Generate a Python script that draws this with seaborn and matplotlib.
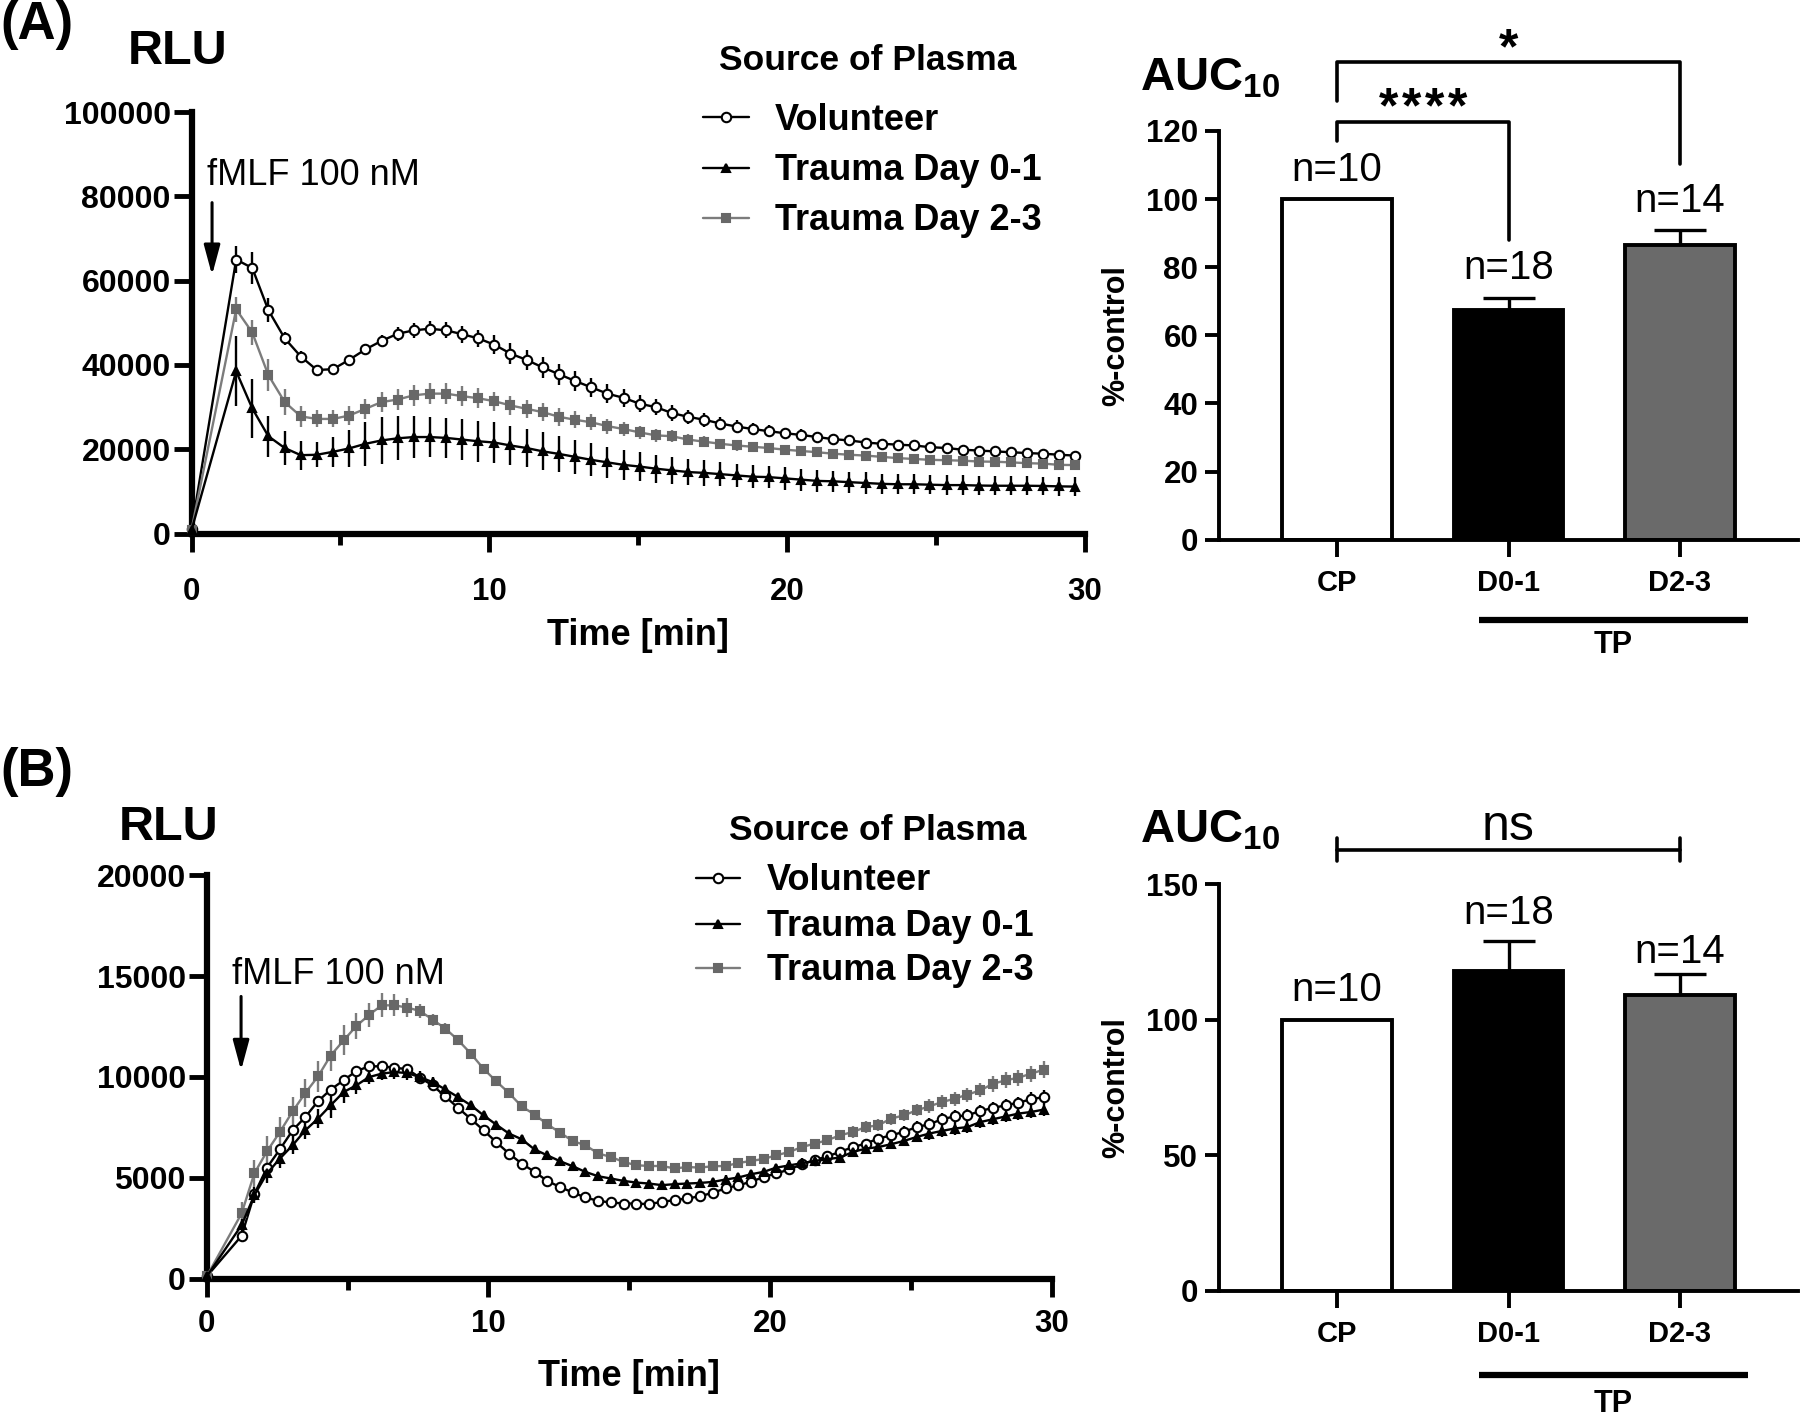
import numpy as np
import pandas as pd
import matplotlib
matplotlib.use("Agg")
import matplotlib.pyplot as plt
from matplotlib.lines import Line2D
import seaborn as sns

# -------------------------------------------------
# Kinetics data (RLU, mean and SEM), panel A
# -------------------------------------------------
time_a = [0, 1.5, 2.04, 2.58, 3.13, 3.67, 4.21, 4.75, 5.29, 5.84,
          6.38, 6.92, 7.46, 8.0, 8.55, 9.09, 9.63, 10.17, 10.71, 11.25,
          11.8, 12.34, 12.88, 13.42, 13.96, 14.51, 15.05, 15.59, 16.13, 16.67,
          17.22, 17.76, 18.3, 18.84, 19.38, 19.93, 20.47, 21.01, 21.55, 22.09,
          22.64, 23.18, 23.72, 24.26, 24.8, 25.35, 25.89, 26.43, 26.97, 27.51,
          28.06, 28.6, 29.14, 29.68]
vol_a = [1000, 65000, 63000, 53000, 46300, 42000, 38800, 39000, 41200, 43700,
         45700, 47400, 48200, 48600, 48200, 47300, 46300, 44800, 42700, 41200,
         39400, 37800, 36200, 34700, 33200, 32200, 30800, 30000, 28600, 27700,
         27000, 26100, 25400, 24800, 24300, 23800, 23400, 22900, 22400, 22100,
         21600, 21300, 21100, 20900, 20500, 20300, 19900, 19700, 19500, 19300,
         19100, 18950, 18700, 18500]
vol_a_err = [0, 3200, 3700, 2900, 1500, 1200, 1000, 1000, 1100, 1300,
             1500, 1700, 1800, 1800, 1900, 2000, 2000, 2300, 2400, 2400,
             2500, 2500, 2400, 2300, 2200, 2100, 2000, 1900, 1800, 1700,
             1600, 1500, 1500, 1400, 1400, 1300, 1300, 1200, 1200, 1100,
             1100, 1100, 1000, 1000, 1000, 1000, 900, 900, 900, 900,
             900, 900, 900, 900]
d01_a = [800, 38500, 29700, 23100, 20300, 18600, 18700, 19400, 20200, 21300,
         22100, 22600, 22900, 22900, 22700, 22300, 21900, 21600, 20900, 20300,
         19500, 18900, 18200, 17500, 16900, 16300, 15900, 15400, 15000, 14600,
         14400, 14100, 13800, 13500, 13400, 13100, 12800, 12500, 12400, 12200,
         12000, 11800, 11700, 11700, 11600, 11500, 11500, 11400, 11350, 11350,
         11350, 11300, 11200, 11150]
d01_a_err = [0, 8300, 7000, 4900, 4100, 3400, 3000, 3600, 4400, 5200,
             5600, 5200, 4900, 4800, 4800, 4800, 4800, 4800, 4700, 4600,
             4500, 4300, 4100, 3900, 3700, 3500, 3400, 3300, 3200, 3100,
             3000, 2900, 2800, 2800, 2700, 2700, 2600, 2600, 2500, 2500,
             2500, 2400, 2400, 2400, 2300, 2300, 2300, 2300, 2200, 2200,
             2200, 2200, 2200, 2200]
d23_a = [900, 53200, 47700, 37600, 31200, 27800, 27200, 27200, 28000, 29600,
         31200, 31800, 32800, 33200, 33200, 32600, 32100, 31400, 30400, 29600,
         28800, 27700, 27000, 26400, 25500, 24800, 24000, 23300, 23100, 22300,
         21800, 21300, 20900, 20600, 20300, 19900, 19600, 19300, 18950, 18700,
         18500, 18200, 17900, 17700, 17500, 17400, 17300, 17100, 17050, 16900,
         16700, 16600, 16300, 16250]
d23_a_err = [0, 3000, 3000, 3700, 3000, 2400, 2000, 2000, 2200, 2300,
             2400, 2500, 2500, 2500, 2500, 2400, 2400, 2300, 2300, 2200,
             2200, 2100, 2000, 1900, 1800, 1700, 1600, 1500, 1400, 1300,
             1300, 1200, 1200, 1100, 1100, 1000, 1000, 1000, 900, 900,
             900, 900, 800, 800, 800, 800, 800, 700, 700, 700,
             700, 700, 700, 700]

# -------------------------------------------------
# Kinetics data, panel B
# -------------------------------------------------
time_b = [0, 1.24, 1.69, 2.14, 2.6, 3.05, 3.5, 3.95, 4.4, 4.86,
          5.31, 5.76, 6.21, 6.66, 7.12, 7.57, 8.02, 8.47, 8.92, 9.38,
          9.83, 10.28, 10.73, 11.18, 11.64, 12.09, 12.54, 12.99, 13.44, 13.9,
          14.35, 14.8, 15.25, 15.7, 16.16, 16.61, 17.06, 17.51, 17.96, 18.42,
          18.87, 19.32, 19.77, 20.22, 20.68, 21.13, 21.58, 22.03, 22.48, 22.94,
          23.39, 23.84, 24.29, 24.74, 25.2, 25.65, 26.1, 26.55, 27.0, 27.46,
          27.91, 28.36, 28.81, 29.26, 29.72]
vol_b = [100, 2120, 4180, 5500, 6410, 7350, 8010, 8790, 9370, 9830,
         10290, 10520, 10530, 10450, 10390, 9960, 9580, 9030, 8470, 7910,
         7350, 6760, 6200, 5700, 5290, 4840, 4540, 4270, 4020, 3850,
         3770, 3720, 3720, 3690, 3800, 3890, 3970, 4080, 4250, 4470,
         4630, 4790, 5040, 5210, 5410, 5670, 5870, 6060, 6280, 6520,
         6690, 6940, 7100, 7270, 7510, 7650, 7900, 8040, 8090, 8310,
         8460, 8590, 8720, 8890, 9000]
vol_b_err = [0, 150, 200, 250, 250, 250, 250, 250, 250, 250,
             250, 250, 250, 250, 250, 250, 250, 250, 250, 200,
             200, 200, 200, 200, 200, 150, 150, 150, 150, 150,
             150, 150, 150, 150, 150, 150, 150, 150, 200, 200,
             200, 200, 200, 200, 200, 250, 250, 250, 250, 250,
             250, 250, 250, 300, 300, 300, 300, 300, 300, 300,
             300, 300, 300, 350, 350]
d01_b = [100, 2650, 4130, 5210, 5950, 6610, 7350, 7930, 8590, 9250,
         9580, 9990, 10160, 10240, 10190, 9990, 9740, 9380, 9000, 8590,
         8090, 7630, 7190, 6910, 6400, 6110, 5820, 5570, 5290, 5070,
         4960, 4840, 4760, 4710, 4630, 4680, 4710, 4740, 4790, 4910,
         5010, 5170, 5290, 5500, 5610, 5720, 5830, 5920, 6000, 6280,
         6440, 6520, 6660, 6820, 7020, 7190, 7320, 7440, 7510, 7760,
         7900, 8040, 8180, 8260, 8380]
d01_b_err = [0, 300, 400, 450, 450, 450, 450, 460, 610, 530,
             450, 350, 330, 330, 330, 300, 250, 200, 200, 200,
             200, 200, 200, 200, 200, 200, 200, 200, 200, 200,
             200, 200, 200, 200, 200, 200, 200, 200, 200, 200,
             200, 200, 200, 200, 250, 250, 250, 250, 250, 250,
             250, 250, 250, 250, 250, 300, 300, 300, 300, 300,
             300, 300, 300, 300, 300]
d23_b = [100, 3230, 5210, 6310, 7270, 8290, 9200, 10020, 11060, 11810,
         12520, 13070, 13550, 13550, 13440, 13270, 12840, 12400, 11830, 11150,
         10400, 9780, 9200, 8540, 8130, 7650, 7240, 6820, 6610, 6200,
         6030, 5780, 5620, 5580, 5580, 5460, 5530, 5500, 5570, 5580,
         5730, 5830, 5930, 6110, 6280, 6520, 6690, 6860, 7100, 7270,
         7510, 7600, 7930, 8090, 8340, 8540, 8750, 8920, 9120, 9330,
         9660, 9830, 9960, 10160, 10360]
d23_b_err = [0, 580, 660, 740, 740, 700, 700, 790, 780, 740,
             660, 600, 600, 550, 450, 350, 300, 250, 200, 200,
             150, 150, 150, 150, 150, 150, 150, 150, 150, 150,
             150, 150, 150, 150, 150, 150, 150, 150, 150, 150,
             150, 200, 200, 200, 200, 250, 250, 250, 250, 300,
             300, 300, 300, 300, 300, 350, 350, 350, 350, 350,
             400, 400, 400, 400, 420]

# -------------------------------------------------
# AUC10 bar data
# -------------------------------------------------
groups = ["CP", "D0-1", "D2-3"]
n_labels = ["n=10", "n=18", "n=14"]
auc_a = [100, 67.5, 86.5]
auc_a_err = [0, 3.5, 4.5]
auc_b = [100, 118, 109]
auc_b_err = [0, 11, 8]

series_names = ["Volunteer", "Trauma Day 0-1", "Trauma Day 2-3"]

GREY_LINE = "#7c7c7c"
GREY_MARK = "#686868"
styles = {
    "Volunteer": dict(color="black", marker="o", mfc="white", mec="black", ms=6.8),
    "Trauma Day 0-1": dict(color="black", marker="^", mfc="black", mec="black", ms=6.0),
    "Trauma Day 2-3": dict(color=GREY_LINE, marker="s", mfc=GREY_MARK, mec=GREY_MARK, ms=5.6),
}

sns.set_theme(style="ticks")
plt.rcParams["font.family"] = ["Liberation Sans", "DejaVu Sans"]
plt.rcParams["mathtext.fontset"] = "custom"
plt.rcParams["mathtext.bf"] = "Liberation Sans:bold"
plt.rcParams["mathtext.rm"] = "Liberation Sans"
for key in ["text.color", "axes.labelcolor", "xtick.color", "ytick.color", "axes.edgecolor"]:
    plt.rcParams[key] = "black"

W, H = 1800, 1418
fig = plt.figure(figsize=(W / 100, H / 100), dpi=100)


def box(l, t, r, b):
    return [l / W, 1 - b / H, (r - l) / W, (b - t) / H]


def ftext(x, y, s, **kw):
    fig.text(x / W, 1 - y / H, s, **kw)


def kinetics(ax, t, series, ymax, ystep, xpad):
    for name, vals, errs in series:
        st = styles[name]
        ax.errorbar(t, vals, yerr=errs, fmt="none", ecolor=st["color"],
                    elinewidth=1.7, capsize=0, zorder=2, clip_on=False)
    for name, vals, errs in series:
        st = styles[name]
        sns.lineplot(x=t, y=vals, ax=ax, color=st["color"], lw=1.7,
                     marker=st["marker"], markersize=st["ms"],
                     markerfacecolor=st["mfc"], markeredgecolor=st["mec"],
                     markeredgewidth=1.5, zorder=3, clip_on=False, legend=False)
    ax.set_xlim(0, 30)
    ax.set_ylim(0, ymax)
    ax.set_xticks([0, 10, 20, 30], ["0", "10", "20", "30"], fontsize=22.5, fontweight="bold")
    ax.set_xticks([5, 15, 25], minor=True)
    yt = list(range(0, ymax + 1, ystep))
    ax.set_yticks(yt, [str(v) for v in yt], fontsize=23, fontweight="bold")
    ax.tick_params(axis="x", which="major", length=13, width=3.5, pad=xpad, color="black")
    ax.tick_params(axis="x", which="minor", length=8, width=3.5, color="black")
    ax.tick_params(axis="y", length=13, width=3.5, pad=2, color="black")
    for s in ["top", "right"]:
        ax.spines[s].set_visible(False)
    for s in ["left", "bottom"]:
        ax.spines[s].set_linewidth(4.5)
        ax.spines[s].set_color("black")
    ax.set_ylabel("")
    ax.set_xlabel("Time [min]", fontsize=26, fontweight="bold")


def auc_bars(ax, vals, errs, ymax, ystep):
    df = pd.DataFrame({"group": groups, "value": vals})
    sns.barplot(data=df, x="group", y="value", hue="group",
                palette=["white", "black", "#6a6a6a"], saturation=1,
                edgecolor="black", linewidth=2.8, width=0.64, legend=False, ax=ax, zorder=2)
    ax.errorbar([1, 2], vals[1:], yerr=[[0, 0], errs[1:]], fmt="none",
                ecolor="black", elinewidth=2.4, capsize=19, capthick=2.4, zorder=1)
    ax.set_xlim(-0.69, 2.69)
    ax.set_ylim(0, ymax)
    ax.set_xticks([0, 1, 2], groups, fontsize=21, fontweight="bold")
    yt = list(range(0, ymax + 1, ystep))
    ax.set_yticks(yt, [str(v) for v in yt], fontsize=22.5, fontweight="bold")
    ax.tick_params(axis="x", length=12, width=2.8, pad=9, color="black")
    ax.tick_params(axis="y", length=10, width=2.8, pad=5, color="black")
    for s in ["top", "right"]:
        ax.spines[s].set_visible(False)
    for s in ["left", "bottom"]:
        ax.spines[s].set_linewidth(2.8)
        ax.spines[s].set_color("black")
    ax.set_xlabel("")
    ax.set_ylabel("%-control", fontsize=22, fontweight="bold")
    ax.yaxis.set_label_coords(-0.151, 0.5)


def legend_block(title_xy, rows, hx0, hx1, tx):
    ftext(title_xy[0], title_xy[1], "Source of Plasma", fontsize=25.5,
          fontweight="bold", ha="center", va="center")
    for name, y in zip(series_names, rows):
        st = styles[name]
        yy = 1 - y / H
        fig.add_artist(Line2D([hx0 / W, (hx0 + hx1) / 2 / W, hx1 / W], [yy, yy, yy],
                              transform=fig.transFigure, color=st["color"], lw=1.7,
                              marker=st["marker"], markevery=[1], markersize=st["ms"],
                              markerfacecolor=st["mfc"], markeredgecolor=st["mec"],
                              markeredgewidth=1.5))
        ftext(tx, y + 12.5, name, fontsize=26, fontweight="bold", ha="left", va="baseline")


# -------------------------------------------------
# (A) kinetics
# -------------------------------------------------
ax1 = fig.add_axes(box(191.5, 112, 1085, 533.6))
kinetics(ax1, time_a, [("Volunteer", vol_a, vol_a_err),
                       ("Trauma Day 2-3", d23_a, d23_a_err),
                       ("Trauma Day 0-1", d01_a, d01_a_err)], 100000, 20000, 18)
ax1.xaxis.set_label_coords(0.5, -0.2)
ax1.annotate("", xy=(0.69, 61300), xytext=(0.69, 78500),
             arrowprops=dict(arrowstyle="-|>,head_length=1.3,head_width=0.35",
                             mutation_scale=14, lw=2.2, color="black",
                             shrinkA=0, shrinkB=0))
ax1.text(4.1, 84900, "fMLF 100 nM", fontsize=26, ha="center", va="center")

# -------------------------------------------------
# (A) AUC bars
# -------------------------------------------------
ax2 = fig.add_axes(box(1219, 131, 1798, 539.6))
auc_bars(ax2, auc_a, auc_a_err, 120, 20)
for i, (lab, y) in enumerate(zip(n_labels, [108.5, 79.9, 99.4])):
    ax2.text(i, y, lab, fontsize=29, ha="center", va="center")
ax2.plot([0, 0, 1, 1], [117.2, 122.6, 122.6, 88.0], color="black", lw=2.6, clip_on=False)
ax2.plot([0, 0, 2, 2], [128.8, 140.3, 140.3, 110.4], color="black", lw=2.6, clip_on=False)
# four separate stars, spaced like the reference
for k in [-1.5, -0.5, 0.5, 1.5]:
    ax2.text(0.5 + k * 0.135, 126.5, "*", fontsize=36, fontweight="bold",
             ha="center", va="center")
ax2.text(1, 143.8, "*", fontsize=36, fontweight="bold", ha="center", va="center")
xt2 = ax2.get_xaxis_transform()
ax2.plot([0.83, 2.4], [-0.197, -0.197], transform=xt2, color="black", lw=4.5,
         solid_capstyle="butt", clip_on=False)
ax2.text(1.61, -0.258, "TP", transform=xt2, fontsize=22, fontweight="bold",
         ha="center", va="center")

# -------------------------------------------------
# (B) kinetics
# -------------------------------------------------
ax3 = fig.add_axes(box(206.7, 875.3, 1051.8, 1278.5))
kinetics(ax3, time_b, [("Volunteer", vol_b, vol_b_err),
                       ("Trauma Day 2-3", d23_b, d23_b_err),
                       ("Trauma Day 0-1", d01_b, d01_b_err)], 20000, 5000, 9)
ax3.xaxis.set_label_coords(0.5, -0.2)
ax3.annotate("", xy=(1.22, 10320), xytext=(1.22, 13990),
             arrowprops=dict(arrowstyle="-|>,head_length=1.3,head_width=0.35",
                             mutation_scale=14, lw=2.2, color="black",
                             shrinkA=0, shrinkB=0))
ax3.text(4.66, 15070, "fMLF 100 nM", fontsize=26, ha="center", va="center")

# -------------------------------------------------
# (B) AUC bars
# -------------------------------------------------
ax4 = fig.add_axes(box(1219, 884, 1798, 1291))
auc_bars(ax4, auc_b, auc_b_err, 150, 50)
for i, (lab, y) in enumerate(zip(n_labels, [111.1, 139.4, 125.1])):
    ax4.text(i, y, lab, fontsize=29, ha="center", va="center")
ax4.plot([0, 2], [162.7, 162.7], color="black", lw=2.6, clip_on=False)
ax4.plot([0, 0], [158.5, 166.9], color="black", lw=2.6, clip_on=False)
ax4.plot([2, 2], [158.5, 166.9], color="black", lw=2.6, clip_on=False)
ax4.text(1, 171, "ns", fontsize=36, ha="center", va="center")
xt4 = ax4.get_xaxis_transform()
ax4.plot([0.83, 2.4], [-0.206, -0.206], transform=xt4, color="black", lw=4.5,
         solid_capstyle="butt", clip_on=False)
ax4.text(1.61, -0.277, "TP", transform=xt4, fontsize=22, fontweight="bold",
         ha="center", va="center")

# -------------------------------------------------
# Panel labels, axis titles and legends
# -------------------------------------------------
ftext(37, 25, "(A)", fontsize=38, fontweight="bold", ha="center", va="center")
ftext(37, 772, "(B)", fontsize=38, fontweight="bold", ha="center", va="center")
ftext(178, 52, "RLU", fontsize=35, fontweight="bold", ha="center", va="center")
ftext(169, 827, "RLU", fontsize=35, fontweight="bold", ha="center", va="center")
for base in [90, 842]:
    ftext(1140, base, r"$\mathbf{AUC_{10}}$", fontsize=34, ha="left", va="baseline")

legend_block((868, 60), [117, 168, 218], 703, 749, 775)
legend_block((878, 830), [878, 924, 968], 696, 740, 767)

fig.savefig("out.png", dpi=100)
